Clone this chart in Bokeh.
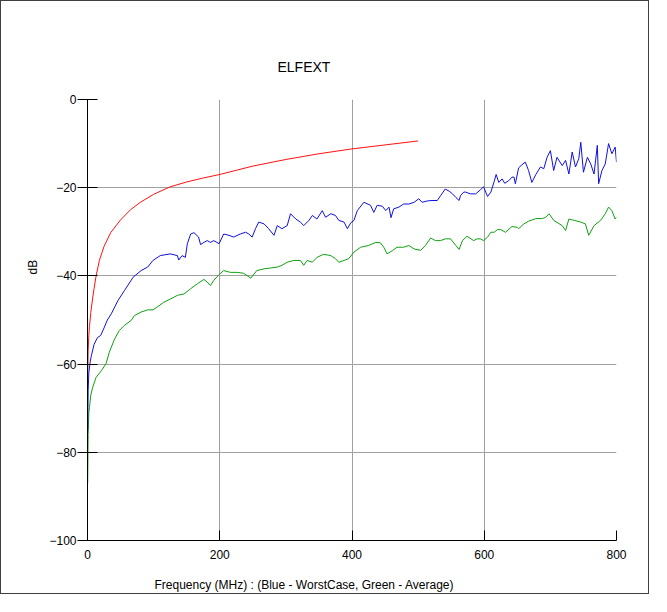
from bokeh.plotting import figure
from bokeh.models import Range1d, FixedTicker, Title
from bokeh.embed import file_html
from bokeh.resources import INLINE

# ---- data ----
x_ticks = [0, 200, 400, 600, 800]
y_ticks = [-100, -80, -60, -40, -20, 0]

red_f = [0.3, 1, 2, 3, 5, 8, 10, 13, 18, 25, 35, 50, 65, 80, 100, 125, 150, 175,
         200, 250, 300, 350, 400, 450, 500]
red_db = [-63, -57, -53.5, -51.5, -48.3, -44.8, -42.8, -40.0, -36.5, -33.3, -30.2,
          -27.3, -25.0, -23.3, -21.5, -19.8, -18.7, -17.8, -17.0, -15.1, -13.6,
          -12.3, -11.2, -10.3, -9.4]

blue_f = [0.3, 1, 2, 4, 6, 10, 15, 20, 25, 30, 36, 46, 56, 69, 81, 91, 99, 110, 125,
          136, 138, 143, 148, 151, 156, 161, 168, 171, 176, 181, 186, 191, 199, 206,
          214, 221, 231, 239, 244, 249, 254, 259, 267, 274, 282, 287, 294, 302, 307,
          315, 322, 327, 335, 340, 347, 355, 360, 368, 375, 380, 388, 393, 398, 403,
          408, 418, 428, 433, 438, 446, 451, 456, 459, 463, 471, 478, 486, 494, 501,
          506, 514, 521, 529, 534, 541, 547, 552, 557, 562, 564, 569, 572, 579, 587,
          594, 599, 605, 610, 615, 618, 622, 627, 631, 637, 642, 645, 647, 652, 657,
          662, 665, 667, 672, 678, 685, 690, 695, 700, 705, 710, 718, 723, 728, 733,
          738, 743, 746, 750, 756, 761, 766, 771, 773, 778, 783, 788, 793, 798, 800]
blue_db = [-75, -66, -62, -59.5, -58, -55.5, -54, -53.5, -51.8, -50, -48.6, -45.6,
           -43.3, -40.3, -38.8, -38.0, -36.5, -35.4, -35.0, -35.4, -36.4, -35.4,
           -35.8, -32.7, -30.5, -30.2, -31.2, -32.9, -32.4, -32.0, -32.4, -32.0,
           -32.7, -30.5, -30.8, -31.2, -30.5, -30.1, -30.5, -31.2, -29.3, -27.8,
           -28.2, -29.3, -30.8, -28.6, -29.3, -28.6, -25.9, -27.1, -27.8, -28.6,
           -27.4, -26.3, -27.1, -25.2, -26.7, -25.9, -26.3, -27.4, -27.8, -29.3,
           -28.0, -27.4, -25.2, -23.3, -24.0, -25.6, -24.0, -24.2, -25.2, -24.4,
           -26.8, -24.8, -24.4, -23.7, -23.7, -23.3, -22.5, -23.3, -23.0, -22.9,
           -22.9, -21.8, -20.3, -20.8, -21.4, -22.2, -22.9, -21.8, -21.0, -21.0,
           -21.4, -21.4, -20.5, -19.8, -22.0, -21.0, -18.6, -17.0, -18.8, -18.0,
           -19.0, -18.4, -17.6, -17.6, -19.1, -15.5, -14.8, -14.2, -15.3, -16.1,
           -18.8, -17.0, -15.3, -15.7, -13.1, -11.6, -16.1, -13.1, -15.0, -13.8,
           -16.9, -11.9, -15.3, -13.4, -9.7, -16.5, -13.1, -14.6, -16.9, -10.4,
           -19.1, -16.1, -14.6, -10.0, -12.3, -10.8, -14.2]

green_f = [0.3, 1, 2, 3, 5, 8, 13, 21, 28, 33, 41, 48, 56, 66, 71, 81, 91, 99, 105,
           115, 126, 136, 146, 156, 166, 176, 181, 186, 191, 199, 206, 216, 226, 236,
           247, 256, 267, 277, 287, 294, 302, 312, 322, 327, 332, 340, 347, 357, 368,
           375, 380, 388, 395, 403, 413, 425, 436, 443, 448, 453, 461, 468, 478, 486,
           494, 504, 511, 519, 526, 534, 541, 549, 557, 562, 567, 574, 584, 589, 594,
           599, 605, 610, 615, 620, 625, 632, 642, 650, 652, 660, 667, 678, 688, 693,
           698, 705, 718, 723, 728, 736, 746, 753, 758, 766, 776, 783, 788, 793, 798,
           800]
green_db = [-87, -76, -71, -69.8, -67, -65.2, -63.0, -61.5, -59.9, -57.3, -54.3,
            -52.4, -51.2, -50.1, -49.0, -48.2, -47.7, -47.7, -47.1, -46.0, -45.2,
            -44.4, -44.1, -42.9, -41.8, -40.8, -41.4, -42.2, -41.0, -39.7, -38.8,
            -39.2, -39.2, -39.4, -40.5, -38.8, -38.4, -38.2, -38.0, -37.6, -36.9,
            -36.5, -36.5, -37.6, -36.5, -36.9, -35.8, -35.1, -35.4, -36.1, -36.9,
            -36.5, -36.1, -34.6, -33.5, -33.1, -32.4, -32.5, -33.5, -35.0, -34.3,
            -33.5, -33.5, -33.1, -33.9, -34.2, -33.1, -31.4, -32.0, -32.0, -31.6,
            -31.6, -33.1, -34.0, -32.0, -31.0, -32.0, -31.6, -31.6, -32.0, -31.2,
            -30.1, -30.1, -29.5, -29.5, -30.1, -28.8, -29.0, -29.3, -28.2, -27.6,
            -27.0, -27.0, -26.7, -25.9, -27.4, -28.6, -29.7, -27.1, -27.4, -27.8,
            -28.2, -30.8, -28.6, -27.4, -25.9, -24.4, -25.2, -27.1, -26.7]

FONT = "Liberation Sans"

p = figure(width=649, height=594, output_backend="svg", toolbar_location=None,
           x_range=Range1d(0, 800), y_range=Range1d(-100, 0),
           min_border_left=86, min_border_right=34, min_border_top=98,
           min_border_bottom=55)
p.styles = {"border": "1px solid #404040"}
p.outline_line_color = None
p.background_fill_color = "white"
p.border_fill_color = "white"

p.line(red_f, red_db, line_color="#ff1010", line_width=1)
p.line(green_f, green_db, line_color="#10a010", line_width=1)
p.line(blue_f, blue_db, line_color="#1010e0", line_width=1)

for ax in (p.xaxis[0], p.yaxis[0]):
    ax.axis_line_color = "black"
    ax.major_tick_line_color = "black"
    ax.minor_tick_line_color = None
    ax.major_label_text_font = FONT
    ax.major_label_text_font_size = "12px"
    ax.major_label_text_color = "black"
p.xaxis[0].ticker = FixedTicker(ticks=x_ticks)
p.yaxis[0].ticker = FixedTicker(ticks=y_ticks)
p.xaxis[0].major_tick_in = 10
p.xaxis[0].major_tick_out = 0
p.xaxis[0].major_label_standoff = 9
p.yaxis[0].major_tick_in = 10
p.yaxis[0].major_tick_out = 10
p.yaxis[0].major_label_standoff = 1

p.xgrid.ticker = FixedTicker(ticks=x_ticks)
p.ygrid.ticker = FixedTicker(ticks=y_ticks)
p.grid.grid_line_color = "#a0a0a0"
p.grid.grid_line_width = 1

p.title.text = "ELFEXT"
p.title.align = "left"
p.title.offset = 190
p.title.standoff = 50
p.title.text_font = FONT
p.title.text_font_size = "14px"
p.title.text_font_style = "normal"
p.title.text_color = "black"

p.add_layout(Title(text="\nFrequency (MHz) : (Blue - WorstCase, Green - Average)",
                   align="left", offset=67, standoff=0, text_font=FONT,
                   text_font_size="12px", text_font_style="normal",
                   text_color="black"), "below")
p.add_layout(Title(text="dB", align="left", offset=266, standoff=13, text_font=FONT,
                   text_font_size="12px", text_font_style="normal",
                   text_color="black"), "left")

open("out.html", "w").write(file_html(p, INLINE))
